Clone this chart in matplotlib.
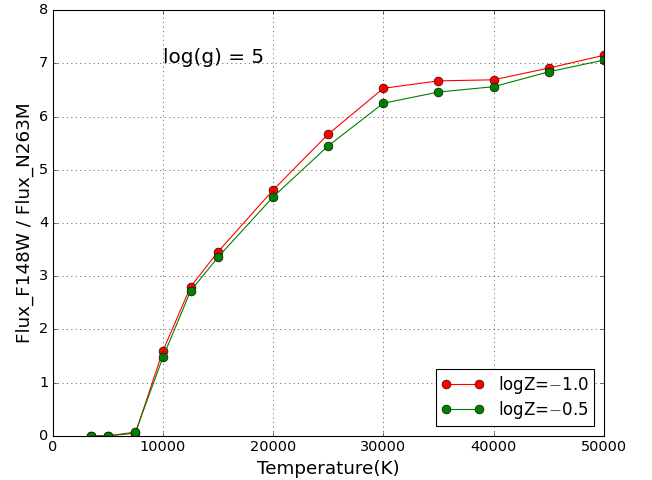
import numpy as np
import matplotlib
matplotlib.use('Agg')
import matplotlib.pyplot as plt

plt.style.use('classic')

temps = [3500, 5000, 7500, 10000, 12500, 15000, 20000, 25000, 30000, 35000, 40000, 45000, 50000]
ratio_m10 = [0.0, 0.0, 0.05, 1.60, 2.80, 3.46, 4.62, 5.67, 6.53, 6.67, 6.69, 6.91, 7.15]
ratio_m05 = [0.0, 0.0, 0.07, 1.48, 2.72, 3.36, 4.49, 5.45, 6.25, 6.46, 6.56, 6.84, 7.06]

fig = plt.figure(figsize=(8.15, 6), dpi=80)
ax = fig.add_axes([0.081, 0.092, 0.845, 0.887])
ax.plot(temps, ratio_m10, 'ro-', ms=8, label=r'logZ=$-$1.0')
ax.plot(temps, ratio_m05, 'go-', ms=8, label=r'logZ=$-$0.5')
ax.text(10000, 7.1, 'log(g) = 5', fontsize=18, va='center')
ax.set_xlim(0, 50000)
ax.set_ylim(0, 8)
ax.tick_params(labelsize=13)
ax.set_xlabel('Temperature(K)', fontsize=16.5)
ax.set_ylabel('Flux_F148W / Flux_N263M', fontsize=16.5)
ax.grid(True)
ax.legend(loc='lower right', numpoints=2, fontsize=15, labelspacing=0.2,
          handlelength=2.6, borderpad=0.3, borderaxespad=0.6)
fig.savefig('out.png', dpi=80)
